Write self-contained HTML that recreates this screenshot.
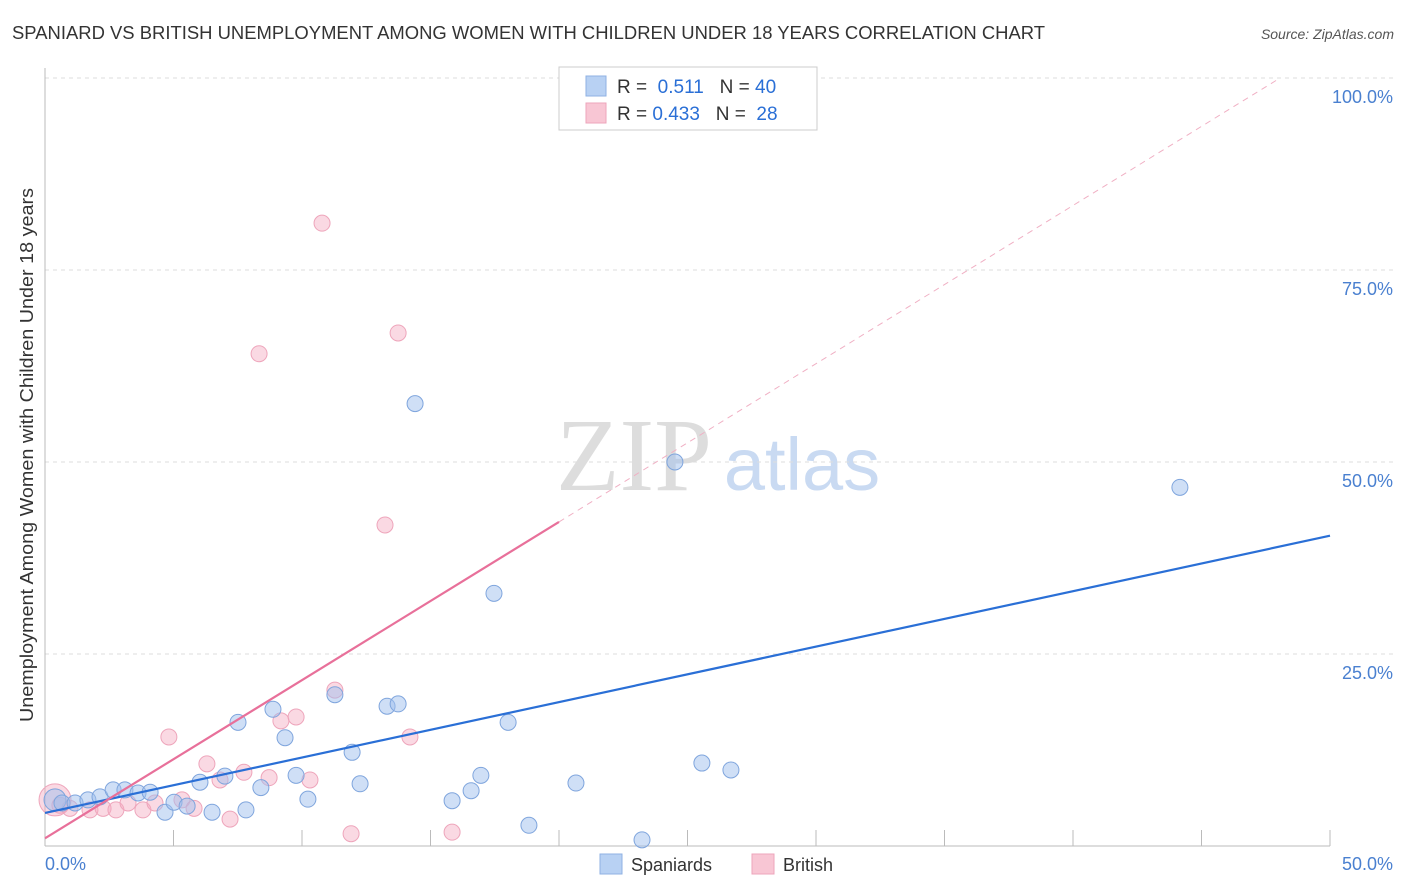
<!DOCTYPE html>
<html><head><meta charset="utf-8"><style>
body{margin:0;background:#fff;font-family:"Liberation Sans",sans-serif}
</style></head><body>
<svg id="c" width="1406" height="892" xmlns="http://www.w3.org/2000/svg" style="display:block">
<text x="12" y="39" font-size="18" fill="#333" textLength="1033" lengthAdjust="spacingAndGlyphs">SPANIARD VS BRITISH UNEMPLOYMENT AMONG WOMEN WITH CHILDREN UNDER 18 YEARS CORRELATION CHART</text>
<text x="1394" y="39" font-size="14" fill="#555" text-anchor="end" font-style="italic">Source: ZipAtlas.com</text>
<text transform="translate(33,722) rotate(-90)" font-size="18" fill="#333" textLength="534" lengthAdjust="spacingAndGlyphs">Unemployment Among Women with Children Under 18 years</text>
<g><text x="634" y="490" font-size="104" font-family="Liberation Serif" fill="#ddd" text-anchor="middle">ZIP</text><text x="802" y="490" font-size="74" fill="#c9daf2" text-anchor="middle">atlas</text></g>
<g id="grid"></g><g id="marks"></g>
<g>
<rect x="559" y="67" width="258" height="63" fill="#fff" stroke="#ccc"/>
<rect x="586" y="76" width="20" height="20" fill="#b8d1f3" stroke="#8fb1e3"/>
<rect x="586" y="103" width="20" height="20" fill="#f8c6d4" stroke="#eea5bb"/>
<text x="617" y="93" font-size="19" fill="#333">R = <tspan fill="#2a6fd6">&#160;0.511</tspan>&#160;&#160;&#160;N = <tspan fill="#2a6fd6">40</tspan></text>
<text x="617" y="120" font-size="19" fill="#333">R = <tspan fill="#2a6fd6">0.433</tspan>&#160;&#160;&#160;N = <tspan fill="#2a6fd6">&#160;28</tspan></text>
</g>
<g>
<rect x="600" y="854" width="22" height="20" fill="#b8d1f3" stroke="#8fb1e3"/><text x="631" y="871" font-size="18" fill="#333">Spaniards</text>
<rect x="752" y="854" width="22" height="20" fill="#f8c6d4" stroke="#eea5bb"/><text x="783" y="871" font-size="18" fill="#333">British</text>
</g>
</svg>
<script>
const yTicks=[25,50,75,100];
const yTickLabels=["25.0%","50.0%","75.0%","100.0%"];
const spanX=[0.39,0.66,1.17,1.67,2.14,2.65,3.11,3.62,4.09,4.67,5.02,5.53,6.03,6.5,7.0,7.51,7.82,8.4,8.87,9.34,9.77,10.23,11.28,11.95,12.26,13.31,13.74,14.4,15.84,16.58,16.96,17.47,18.02,18.83,20.66,23.23,24.51,25.56,26.69,44.16];
const spanY=[6.0,5.6,5.6,6.0,6.4,7.3,7.3,6.9,7.0,4.4,5.7,5.2,8.3,4.4,9.1,16.1,4.7,7.6,17.8,14.1,9.2,6.1,19.7,12.2,8.1,18.2,18.5,57.6,5.9,7.2,9.2,32.9,16.1,2.7,8.2,0.8,50.0,10.8,9.9,46.7];
const britX=[0.39,0.58,0.97,1.75,2.26,2.76,3.23,3.81,4.28,4.82,5.33,5.8,6.3,6.81,7.2,7.74,8.33,8.72,9.18,9.77,10.31,10.78,11.28,11.91,13.23,13.74,14.2,15.84];
const britY=[6.0,5.3,4.9,4.7,4.9,4.7,5.6,4.7,5.6,14.2,6.0,4.9,10.7,8.6,3.5,9.6,64.1,8.9,16.3,16.8,8.6,81.1,20.3,1.6,41.8,66.8,14.2,1.8];
const spanTrend=[4.3,40.4];
const britTrend=[1.0,2.06];
const NS="http://www.w3.org/2000/svg";
const X=v=>45+v*25.7, Y=v=>846-v*7.68;
function mk(p,t,a){const e=document.createElementNS(NS,t);for(const k in a)e.setAttribute(k,a[k]);p.appendChild(e);return e;}
const g=document.getElementById('grid'),m=document.getElementById('marks');
yTicks.forEach((t,i)=>{
 const l=mk(g,'line',{x1:45,x2:1394,y1:Y(t),y2:Y(t),stroke:'#ddd','stroke-dasharray':'4,4'});
 
 
 const tx=mk(g,'text',{x:1393,y:Y(t)+25,'font-size':18,fill:'#4a80d0','text-anchor':'end'});
 tx.textContent=yTickLabels[i];
 
 
});
const ax=mk(g,'line',{x1:45,x2:1330,y1:846,y2:846,stroke:'#bbb'});


const ay=mk(g,'line',{x1:45,x2:45,y1:68,y2:846,stroke:'#bbb'});


for(let v=0;v<=50;v+=5){const t=mk(g,'line',{x1:X(v),x2:X(v),y1:830,y2:846,stroke:'#bbb'});
 
 }
[[0,'0.0%','start',45],[50,'50.0%','end',1393]].forEach(a=>{const t=mk(g,'text',{x:a[3],y:870,'font-size':18,fill:'#4a80d0','text-anchor':a[2]});t.textContent=a[1];
 
 });
britX.forEach((x,i)=>{const c=mk(m,'circle',{cx:X(x),cy:Y(britY[i]),r:i==0?16:8,fill:'rgba(244,170,192,0.45)',stroke:'#eea5bb','stroke-width':1});
 
 });
spanX.forEach((x,i)=>{const c=mk(m,'circle',{cx:X(x),cy:Y(spanY[i]),r:i==0?11:8,fill:'rgba(160,192,238,0.5)',stroke:'#7fa5dd','stroke-width':1});
 
 });
const bl=mk(m,'line',{x1:X(0),y1:Y(spanTrend[0]),x2:X(50),y2:Y(spanTrend[1]),stroke:'#2a6fd6','stroke-width':2.2});


const pl=mk(m,'line',{x1:X(0),y1:Y(britTrend[0]),x2:X(20),y2:Y(britTrend[0]+britTrend[1]*20),stroke:'#e8709a','stroke-width':2.2});


const xe=(100-britTrend[0])/britTrend[1];
const pd=mk(m,'line',{x1:X(20),y1:Y(britTrend[0]+britTrend[1]*20),x2:X(xe),y2:Y(100),stroke:'#f0b0c4','stroke-width':1,'stroke-dasharray':'6,5'});


</script>
</body></html>
